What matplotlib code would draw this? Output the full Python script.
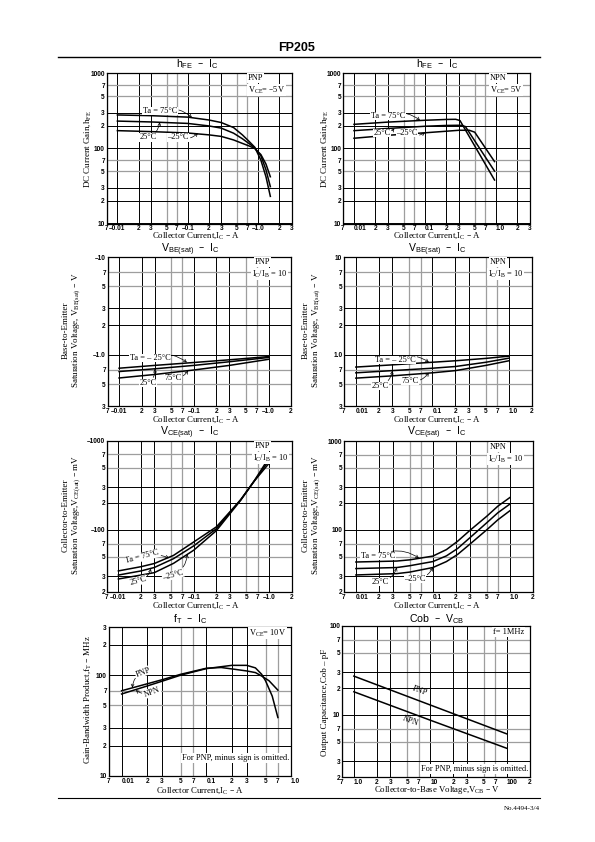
import numpy as np
import matplotlib
matplotlib.use("Agg")
from matplotlib import pyplot as plt
from matplotlib.lines import Line2D
from matplotlib.ticker import FixedLocator, FixedFormatter

plt.rcParams['font.family'] = ['Liberation Serif', 'DejaVu Serif']
plt.rcParams['mathtext.default'] = 'regular'

W, H = 595, 842
SANS = ['Liberation Sans', 'DejaVu Sans']

# ---- values ----
# hFE - IC, PNP
hfe_pnp_ic = [0.01, 0.03, 0.1, 0.2, 0.3, 0.45, 0.6, 0.75, 0.9, 1.1, 1.3, 1.5]
hfe_pnp_75 = [280, 274, 262, 240, 222, 190, 152, 124, 104, 70, 42, 23]
hfe_pnp_25 = [232, 226, 216, 200, 187, 160, 135, 116, 102, 80, 52, 31]
hfe_pnp_m25 = [173, 168, 161, 152, 145, 130, 117, 108, 100, 83, 62, 42]

# hFE - IC, NPN
hfe_npn_ic_75 = [0.01, 0.03, 0.1, 0.2, 0.27, 0.31, 0.95]
hfe_npn_75 = [210, 225, 238, 244, 245, 236, 38]
hfe_npn_ic_25 = [0.01, 0.03, 0.1, 0.2, 0.3, 0.33, 0.37, 0.95]
hfe_npn_25 = [173, 185, 198, 203, 204, 203, 196, 50]
hfe_npn_ic_m25 = [0.01, 0.03, 0.1, 0.2, 0.3, 0.42, 0.5, 0.95]
hfe_npn_m25 = [137, 150, 162, 170, 175, 175, 165, 67]

# VBE(sat) - IC
vbe_pnp_ic = [0.01, 0.03, 0.1, 0.3, 1.0]
vbe_pnp_m25 = [0.73, 0.78, 0.835, 0.89, 0.96]
vbe_pnp_25 = [0.675, 0.72, 0.78, 0.85, 0.94]
vbe_pnp_75 = [0.58, 0.63, 0.70, 0.78, 0.90]

vbe_npn_ic = [0.01, 0.03, 0.1, 0.2, 0.5, 1.0]
vbe_npn_m25 = [0.75, 0.79, 0.84, 0.87, 0.92, 0.97]
vbe_npn_25 = [0.655, 0.69, 0.73, 0.76, 0.84, 0.925]
vbe_npn_75 = [0.578, 0.61, 0.655, 0.69, 0.78, 0.87]

# VCE(sat) - IC (mV)
vce_pnp_ic = [0.01, 0.02, 0.03, 0.054, 0.1, 0.2, 0.42, 0.63, 1.0]
vce_pnp_75 = [34.5, 38.5, 41.8, 51.6, 73, 108, 218, 350, 560]
vce_pnp_25 = [31, 34.5, 37.7, 47.4, 66, 103, 218, 350, 605]
vce_pnp_m25 = [28, 31, 33, 42, 59, 98, 215, 352, 650]

vce_npn_ic = [0.01, 0.034, 0.05, 0.1, 0.15, 0.21, 0.3, 0.5, 0.7, 1.0]
vce_npn_75 = [43.5, 44.6, 46, 50.7, 60, 74.6, 98, 142, 185, 231]
vce_npn_25 = [36.7, 37.7, 39.5, 44, 51, 61.8, 81, 120, 156, 195]
vce_npn_m25 = [31.1, 32.2, 33.5, 37.7, 44, 53, 68.6, 100, 130, 164]

# fT - IC (MHz)
ft_pnp_ic = [0.01, 0.02, 0.03, 0.05, 0.1, 0.15, 0.22, 0.3, 0.38, 0.45, 0.55, 0.7]
ft_pnp = [70, 82, 90, 102, 117, 119, 114, 110, 106, 98, 88, 71]
ft_npn_ic = [0.01, 0.02, 0.03, 0.05, 0.1, 0.2, 0.3, 0.38, 0.45, 0.5, 0.6, 0.7]
ft_npn = [65, 78, 87, 100, 116, 125, 125, 118, 102, 88, 62, 38]

# Cob - VCB (pF)
cob_vcb = [1.0, 10, 100]
cob_pnp = [27.3, 12.9, 6.1]
cob_npn = [18.2, 8.7, 4.2]

# ---- tick values and labels ----
ic_ticks_3 = [0.007, 0.01, 0.02, 0.03, 0.05, 0.07, 0.1, 0.2, 0.3, 0.5, 0.7, 1.0, 2, 3]
ic_pnp_labels_3 = ['7', '–0.01', '2', '3', '5', '7', '–0.1', '2', '3', '5', '7', '–1.0', '2', '3']
ic_npn_labels_3 = ['7', '0.01', '2', '3', '5', '7', '0.1', '2', '3', '5', '7', '1.0', '2', '3']
ic_ticks_2 = ic_ticks_3[:-1]
ic_pnp_labels_2 = ic_pnp_labels_3[:-1]
ic_npn_labels_2 = ic_npn_labels_3[:-1]
ic_ticks_1 = ic_ticks_3[:-2]
ic_npn_labels_1 = ic_npn_labels_3[:-2]
vcb_ticks = [0.7, 1, 2, 3, 5, 7, 10, 20, 30, 50, 70, 100, 200]
vcb_labels = ['7', '1.0', '2', '3', '5', '7', '10', '2', '3', '5', '7', '100', '2']
hfe_ticks = [10, 20, 30, 50, 70, 100, 200, 300, 500, 700, 1000]
hfe_labels = ['10', '2', '3', '5', '7', '100', '2', '3', '5', '7', '1000']
vbe_ticks = [0.3, 0.5, 0.7, 1, 2, 3, 5, 7, 10]
vbe_pnp_labels = ['3', '5', '7', '–1.0', '2', '3', '5', '7', '–10']
vbe_npn_labels = ['3', '5', '7', '1.0', '2', '3', '5', '7', '10']
vce_ticks = [20, 30, 50, 70, 100, 200, 300, 500, 700, 1000]
vce_pnp_labels = ['2', '3', '5', '7', '–100', '2', '3', '5', '7', '–1000']
vce_npn_labels = ['2', '3', '5', '7', '100', '2', '3', '5', '7', '1000']
ft_ticks = [10, 20, 30, 50, 70, 100, 200, 300]
ft_labels = ['10', '2', '3', '5', '7', '100', '2', '3']
cob_ticks = [2, 3, 5, 7, 10, 20, 30, 50, 70, 100]
cob_labels = ['2', '3', '5', '7', '10', '2', '3', '5', '7', '100']


def fxy(x, y):
    return x / W, 1 - y / H


def set_log_ticks(axis, ticks, labels):
    mant = [round(v / 10 ** np.floor(np.log10(v) + 1e-9)) for v in ticks]
    maj = [(v, s) for v, s, m in zip(ticks, labels, mant) if m in (1, 2, 3)]
    mnr = [(v, s) for v, s, m in zip(ticks, labels, mant) if m in (5, 7)]
    axis.set_major_locator(FixedLocator([v for v, s in maj]))
    axis.set_major_formatter(FixedFormatter([s for v, s in maj]))
    axis.set_minor_locator(FixedLocator([v for v, s in mnr]))
    axis.set_minor_formatter(FixedFormatter([s for v, s in mnr]))


def panel(fig, box, xt, xl, yt, yl):
    l, t, r, b = box
    ax = fig.add_axes([l / W, 1 - b / H, (r - l) / W, (b - t) / H])
    ax.set_xscale('log')
    ax.set_yscale('log')
    ax.set_xlim(xt[0], xt[-1])
    ax.set_ylim(yt[0], yt[-1])
    set_log_ticks(ax.xaxis, xt, xl)
    set_log_ticks(ax.yaxis, yt, yl)
    ax.grid(which='major', color='black', lw=0.7)
    ax.grid(which='minor', color='0.62', lw=0.9)
    ax.tick_params(which='both', length=0, labelsize=4.7, pad=1.2,
                   labelfontfamily='Liberation Sans')
    for s in ax.spines.values():
        s.set_linewidth(0.9)
    return ax


def frac(box, px, py):
    l, t, r, b = box
    return (px - l) / (r - l), (b - py) / (b - t)


def label(ax, box, text, pos, tip, rot=0, rad=0.3):
    ax.annotate(text, xy=tip, xytext=frac(box, *pos), textcoords='axes fraction',
                ha='center', va='center', fontsize=6, rotation=rot,
                bbox=dict(fc='white', ec='none', pad=0.3),
                arrowprops=dict(arrowstyle='->', lw=0.5, color='black',
                                mutation_scale=5, shrinkA=1, shrinkB=0,
                                connectionstyle='arc3,rad=%s' % rad))


def note(ax, box, text, pos, ha='left', size=6, rot=0):
    ax.text(*frac(box, *pos), text, transform=ax.transAxes, ha=ha, va='center',
            fontsize=size, rotation=rot, bbox=dict(fc='white', ec='none', pad=0.4))


fig = plt.figure(figsize=(W / 100, H / 100), dpi=100)

# page header / footer
fig.text(*fxy(297, 48), 'FP205', ha='center', va='center', fontsize=9,
         fontweight='bold', family=SANS)
fig.add_artist(Line2D([58 / W, 540 / W], [1 - 57 / H] * 2, color='black', lw=1.0))
fig.add_artist(Line2D([58 / W, 540 / W], [1 - 798 / H] * 2, color='black', lw=0.8))
fig.text(*fxy(540, 808), 'No.4494-3/4', ha='right', va='center', fontsize=5)

lw = 1.1
xl_ic = 'Collector Current,I$_C$ – A'

# 1: hFE PNP
b1 = (106.5, 73.5, 291.5, 223.5)
ax = panel(fig, b1, ic_ticks_3, ic_pnp_labels_3, hfe_ticks, hfe_labels)
for ys in (hfe_pnp_75, hfe_pnp_25, hfe_pnp_m25):
    ax.plot(hfe_pnp_ic, ys, color='black', lw=lw)
note(ax, b1, 'PNP', (248, 78))
note(ax, b1, 'V$_{CE}$= –5V', (248, 90))
label(ax, b1, 'Ta = 75°C', (160, 111), (0.115, 258), rad=-0.3)
label(ax, b1, '25°C', (148, 137.5), (0.04, 225), rad=0.3)
label(ax, b1, '–25°C', (178, 137.5), (0.14, 160), rad=0.3)

# 2: hFE NPN
b2 = (343, 73.5, 530, 223.5)
ax = panel(fig, b2, ic_ticks_3, ic_npn_labels_3, hfe_ticks, hfe_labels)
ax.plot(hfe_npn_ic_75, hfe_npn_75, color='black', lw=lw)
ax.plot(hfe_npn_ic_25, hfe_npn_25, color='black', lw=lw)
ax.plot(hfe_npn_ic_m25, hfe_npn_m25, color='black', lw=lw)
note(ax, b2, 'NPN', (490, 78))
note(ax, b2, 'V$_{CE}$= 5V', (490, 90))
label(ax, b2, 'Ta = 75°C', (388, 116), (0.085, 237), rad=-0.3)
label(ax, b2, '25°C', (382, 133), (0.037, 185), rad=0.3)
label(ax, b2, '–25°C', (407, 133), (0.1, 163), rad=0.3)

# 3: VBE PNP
b3 = (107.5, 257, 291, 406)
ax = panel(fig, b3, ic_ticks_2, ic_pnp_labels_2, vbe_ticks, vbe_pnp_labels)
for ys in (vbe_pnp_m25, vbe_pnp_25, vbe_pnp_75):
    ax.plot(vbe_pnp_ic, ys, color='black', lw=lw)
note(ax, b3, 'PNP', (255, 262))
note(ax, b3, 'I$_C$/I$_B$ = 10', (252, 274))
label(ax, b3, 'Ta = – 25°C', (150, 358), (0.081, 0.835), rad=-0.3)
label(ax, b3, '25°C', (148, 383), (0.03, 0.72), rad=0.3)
label(ax, b3, '75°C', (173, 378), (0.084, 0.69), rad=0.3)

# 4: VBE NPN
b4 = (344, 257, 532, 406)
ax = panel(fig, b4, ic_ticks_2, ic_npn_labels_2, vbe_ticks, vbe_npn_labels)
for ys in (vbe_npn_m25, vbe_npn_25, vbe_npn_75):
    ax.plot(vbe_npn_ic, ys, color='black', lw=lw)
note(ax, b4, 'NPN', (490, 262))
note(ax, b4, 'I$_C$/I$_B$ = 10', (488, 274))
label(ax, b4, 'Ta = – 25°C', (395, 360), (0.09, 0.84), rad=-0.3)
label(ax, b4, '25°C', (380, 386), (0.03, 0.69), rad=0.3)
label(ax, b4, '75°C', (410, 381), (0.09, 0.655), rad=0.3)

# 5: VCE PNP
b5 = (106.7, 440.7, 291.9, 592)
ax = panel(fig, b5, ic_ticks_2, ic_pnp_labels_2, vce_ticks, vce_pnp_labels)
for ys in (vce_pnp_75, vce_pnp_25, vce_pnp_m25):
    ax.plot(vce_pnp_ic, ys, color='black', lw=lw)
note(ax, b5, 'PNP', (255, 446))
note(ax, b5, 'I$_C$/I$_B$ = 10', (253, 458))
label(ax, b5, 'Ta = 75°C', (142, 557), (0.047, 48), rot=15, rad=-0.2)
label(ax, b5, '25°C', (138, 581), (0.027, 36.5), rot=15, rad=0.3)
label(ax, b5, '–25°C', (173, 575), (0.082, 53), rot=15, rad=0.3)

# 6: VCE NPN
b6 = (344, 441, 533, 592)
ax = panel(fig, b6, ic_ticks_2, ic_npn_labels_2, vce_ticks, vce_npn_labels)
for ys in (vce_npn_75, vce_npn_25, vce_npn_m25):
    ax.plot(vce_npn_ic, ys, color='black', lw=lw)
note(ax, b6, 'NPN', (490, 447))
note(ax, b6, 'I$_C$/I$_B$ = 10', (488, 459))
label(ax, b6, 'Ta = 75°C', (378, 556), (0.066, 48), rad=-0.3)
label(ax, b6, '25°C', (380, 582), (0.034, 37.7), rad=0.3)
label(ax, b6, '–25°C', (415, 579), (0.1, 37.7), rad=0.3)

# 7: fT
b7 = (108.5, 627, 291, 776)
ax = panel(fig, b7, ic_ticks_1, ic_npn_labels_1, ft_ticks, ft_labels)
ax.plot(ft_pnp_ic, ft_pnp, color='black', lw=lw)
ax.plot(ft_npn_ic, ft_npn, color='black', lw=lw)
note(ax, b7, 'V$_{CE}$= 10V', (249, 633))
note(ax, b7, 'For PNP, minus sign is omitted.', (289, 758), ha='right')
label(ax, b7, 'PNP', (143, 672), (0.0134, 75), rot=20, rad=0.3)
label(ax, b7, 'NPN', (152, 692), (0.0147, 71), rot=20, rad=-0.3)

# 8: Cob
b8 = (342, 626, 530, 777)
ax = panel(fig, b8, vcb_ticks, vcb_labels, cob_ticks, cob_labels)
ax.plot(cob_vcb, cob_pnp, color='black', lw=lw)
ax.plot(cob_vcb, cob_npn, color='black', lw=lw)
note(ax, b8, 'f= 1MHz', (493, 632))
note(ax, b8, 'For PNP, minus sign is omitted.', (528, 769), ha='right')
ax.text(*frac(b8, 420, 691), 'PNP', transform=ax.transAxes, ha='center', va='center',
        fontsize=6, rotation=-20)
ax.text(*frac(b8, 410, 721), 'NPN', transform=ax.transAxes, ha='center', va='center',
        fontsize=6, rotation=-20)

# titles, axis labels
titles = [('h$_{FE}$  –  I$_C$', 197, 64), ('h$_{FE}$  –  I$_C$', 437, 64),
          ('V$_{BE(sat)}$  –  I$_C$', 190, 250), ('V$_{BE(sat)}$  –  I$_C$', 437, 250),
          ('V$_{CE(sat)}$  –  I$_C$', 190, 433), ('V$_{CE(sat)}$  –  I$_C$', 437, 433),
          ('f$_T$  –  I$_C$', 190, 619), ('Cob  –  V$_{CB}$', 437, 619)]
for s, x, y in titles:
    fig.text(*fxy(x, y), s, ha='center', va='center', fontsize=7.6, family=SANS)

xlabels = [(xl_ic, 196, 236), (xl_ic, 437, 236), (xl_ic, 196, 419.5),
           (xl_ic, 437, 419.5), (xl_ic, 196, 605.5), (xl_ic, 437, 605.5),
           (xl_ic, 200, 790.5), ('Collector-to-Base Voltage,V$_{CB}$ – V', 437, 790.5)]
for s, x, y in xlabels:
    fig.text(*fxy(x, y), s, ha='center', va='center', fontsize=6.3)

ylabels = [('DC Current Gain,h$_{FE}$', 88, 149), ('DC Current Gain,h$_{FE}$', 325, 149),
           ('Base-to-Emitter\nSaturation Voltage, V$_{BE(sat)}$ – V', 72, 330),
           ('Base-to-Emitter\nSaturation Voltage, V$_{BE(sat)}$ – V', 312, 330),
           ('Collector-to-Emitter\nSaturation Voltage,V$_{CE(sat)}$ – mV', 72, 515),
           ('Collector-to-Emitter\nSaturation Voltage,V$_{CE(sat)}$ – mV', 312, 515),
           ('Gain-Bandwidth Product,f$_T$ – MHz', 88, 700),
           ('Output Capacitance,Cob – pF', 325, 702)]
for s, x, y in ylabels:
    fig.text(*fxy(x, y), s, ha='center', va='center', fontsize=6.5, rotation=90,
             linespacing=1.1)

# decade labels on the current/voltage axes start at their grid line, as on the sheet
fig.canvas.draw()
for a in fig.axes:
    for tk in a.xaxis.get_major_ticks() + a.xaxis.get_minor_ticks() \
            + a.yaxis.get_major_ticks() + a.yaxis.get_minor_ticks():
        tk.label1.set_fontweight('bold')
    for tk in a.xaxis.get_major_ticks():
        s = tk.label1.get_text()
        if s.startswith(('0.', '1.0', '10')):
            tk.label1.set_horizontalalignment('left')

fig.savefig('out.png', dpi=100)
